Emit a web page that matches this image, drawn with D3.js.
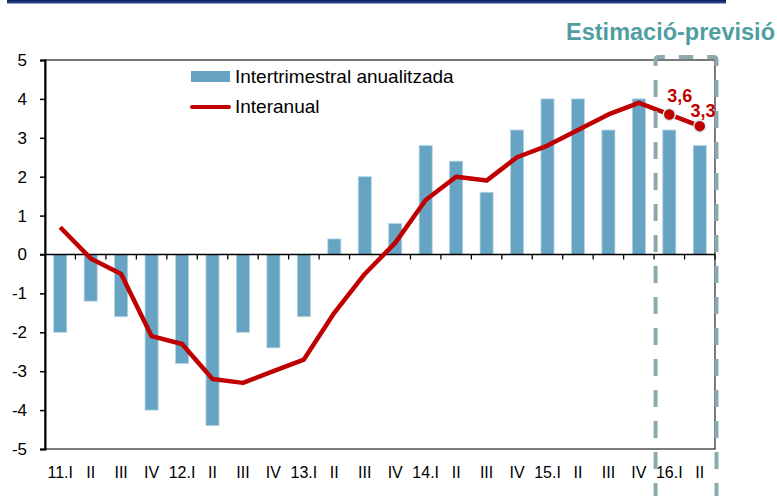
<html>
<head>
    <meta charset="utf-8">
    <title>Estimació-previsió</title>
    <script src="https://d3js.org/d3.v7.min.js"></script>
    <style>
        body { margin: 0; background: #fff; }
        text { font-family: "Liberation Sans", Arial, sans-serif; }
    </style>
</head>
<body>
<script>
    var width = 777,
        height = 496,
        plotLeft = 45, plotRight = 715, plotTop = 60, plotBottom = 449,
        barColor = "#67a4c4",
        lineColor = "#c00000",
        boxColor = "#8ca9ad";

    // quarters
    var quarters = ["11.I", "II", "III", "IV", "12.I", "II ", "III ", "IV ", "13.I", "II  ", "III  ", "IV  ",
        "14.I", "II   ", "III   ", "IV   ", "15.I", "II    ", "III    ", "IV    ", "16.I", "II     "];
    // intertrimestral anualitzada
    var quarterly = [-2.0, -1.2, -1.6, -4.0, -2.8, -4.4, -2.0, -2.4, -1.6, 0.4, 2.0, 0.8,
        2.8, 2.4, 1.6, 3.2, 4.0, 4.0, 3.2, 4.0, 3.2, 2.8];
    // interanual
    var yearly = [0.7, -0.1, -0.5, -2.1, -2.3, -3.2, -3.3, -3.0, -2.7, -1.5, -0.5, 0.3,
        1.4, 2.0, 1.9, 2.5, 2.8, 3.2, 3.6, 3.9, 3.6, 3.3];
    var yTicks = [5, 4, 3, 2, 1, 0, -1, -2, -3, -4, -5];
    var forecastStart = 20;
    var pointLabels = ["3,6", "3,3"];

    var svg = d3.select("body").append("svg")
        .attr("width", width)
        .attr("height", height);

    var x = d3.scaleBand()
        .domain(quarters)
        .range([plotLeft, plotRight])
        .paddingInner(0.57)
        .paddingOuter(0.285);

    var y = d3.scaleLinear()
        .domain([-5, 5])
        .range([plotBottom, plotTop]);

    var cx = function (i) { return x(quarters[i]) + x.bandwidth() / 2; };

    // top rule
    var grad = svg.append("defs").append("linearGradient")
        .attr("id", "rule").attr("x1", 0).attr("x2", 0).attr("y1", 0).attr("y2", 1);
    grad.append("stop").attr("offset", "0%").attr("stop-color", "#081c5a");
    grad.append("stop").attr("offset", "100%").attr("stop-color", "#2e4f95");
    svg.append("rect")
        .attr("x", 7).attr("y", 0)
        .attr("width", 719).attr("height", 3.5)
        .attr("fill", "url(#rule)");

    // title
    svg.append("text")
        .attr("x", 775).attr("y", 40)
        .attr("text-anchor", "end")
        .attr("font-size", 23.5)
        .attr("font-weight", "bold")
        .attr("fill", "#4f9ea1")
        .text("Estimació-previsió");

    // frame
    svg.append("rect")
        .attr("x", plotLeft).attr("y", plotTop)
        .attr("width", plotRight - plotLeft).attr("height", plotBottom - plotTop)
        .attr("fill", "none")
        .attr("stroke", "#222")
        .attr("stroke-width", 1.2);

    // y axis
    var yAxis = d3.axisLeft(y).tickValues(yTicks).tickSize(5).tickPadding(13)
        .tickFormat(function (d) { return String(d); });
    var gy = svg.append("g").attr("transform", "translate(" + plotLeft + ",0)").call(yAxis);
    gy.select(".domain").attr("stroke", "#000").attr("stroke-width", 2);
    gy.selectAll(".tick line").attr("stroke", "#000").attr("stroke-width", 1.5);
    gy.selectAll(".tick text").attr("font-size", 17).attr("fill", "#000")
        .style("font-family", "'Liberation Sans', Arial, sans-serif");

    // bars
    svg.selectAll(".bar").data(quarterly)
        .enter().append("rect")
        .attr("class", "bar")
        .attr("x", function (d, i) { return x(quarters[i]); })
        .attr("y", function (d) { return y(Math.max(0, d)); })
        .attr("width", x.bandwidth())
        .attr("height", function (d) { return Math.abs(y(d) - y(0)); })
        .attr("fill", barColor)
        .attr("stroke", "#b5d6e4")
        .attr("stroke-width", 0.8);

    // zero line with ticks at band boundaries
    svg.append("line")
        .attr("x1", plotLeft - 5).attr("x2", plotRight)
        .attr("y1", y(0)).attr("y2", y(0))
        .attr("stroke", "#000").attr("stroke-width", 1.5);
    svg.selectAll(".xtick").data(d3.range(1, quarters.length + 1))
        .enter().append("line")
        .attr("x1", function (i) { return plotLeft + x.step() * i; })
        .attr("x2", function (i) { return plotLeft + x.step() * i; })
        .attr("y1", y(0)).attr("y2", y(0) + 5)
        .attr("stroke", "#000").attr("stroke-width", 1.3);

    // x labels
    svg.selectAll(".xlabel").data(quarters)
        .enter().append("text")
        .attr("x", function (d, i) { return cx(i); })
        .attr("y", 478)
        .attr("text-anchor", "middle")
        .attr("font-size", 16)
        .attr("fill", "#000")
        .text(function (d) { return d.trim(); });

    // interanual line
    var line = d3.line()
        .x(function (d, i) { return cx(i); })
        .y(function (d) { return y(d); });
    svg.append("path")
        .datum(yearly)
        .attr("d", line)
        .attr("fill", "none")
        .attr("stroke", lineColor)
        .attr("stroke-width", 4.5)
        .attr("stroke-linejoin", "round");

    // forecast box, drawn as two halves from the bottom so the dashes match on both sides
    var bx0 = plotLeft + x.step() * forecastStart + 1.5,
        bx1 = plotRight + 1.5,
        bxm = (bx0 + bx1) / 2,
        by0 = plotTop - 3;
    var halves = [
        "M" + bx0 + "," + height + "V" + (by0 + 3) + "Q" + bx0 + "," + by0 + " " + (bx0 + 3) + "," + by0 + "H" + bxm,
        "M" + bx1 + "," + height + "V" + (by0 + 3) + "Q" + bx1 + "," + by0 + " " + (bx1 - 3) + "," + by0 + "H" + bxm
    ];
    svg.selectAll(".box").data(halves)
        .enter().append("path")
        .attr("d", function (d) { return d; })
        .attr("fill", "none")
        .attr("stroke", boxColor)
        .attr("stroke-width", 4)
        .attr("stroke-dasharray", "17,14")
        .attr("stroke-dashoffset", 4);

    // forecast points
    var fc = d3.range(forecastStart, quarters.length);
    svg.selectAll(".pt").data(fc)
        .enter().append("circle")
        .attr("cx", function (i) { return cx(i); })
        .attr("cy", function (i) { return y(yearly[i]); })
        .attr("r", 6)
        .attr("fill", lineColor)
        .attr("stroke", "#d4ecf0")
        .attr("stroke-width", 1.5);
    var off = [[10.5, -12.5], [3.3, -9]];
    svg.selectAll(".ptlabel").data(fc)
        .enter().append("text")
        .attr("x", function (i, k) { return cx(i) + off[k][0]; })
        .attr("y", function (i, k) { return y(yearly[i]) + off[k][1]; })
        .attr("text-anchor", "middle")
        .attr("font-size", 18)
        .attr("font-weight", "bold")
        .attr("fill", lineColor)
        .text(function (i, k) { return pointLabels[k]; });

    // legend
    var lg = svg.append("g");
    lg.append("rect")
        .attr("x", 191).attr("y", 71)
        .attr("width", 39).attr("height", 11)
        .attr("fill", barColor);
    lg.append("text")
        .attr("x", 235).attr("y", 83)
        .attr("font-size", 19).attr("fill", "#000")
        .text("Intertrimestral anualitzada");
    lg.append("line")
        .attr("x1", 192).attr("x2", 229)
        .attr("y1", 107).attr("y2", 107)
        .attr("stroke", lineColor).attr("stroke-width", 4)
        .attr("stroke-linecap", "round");
    lg.append("text")
        .attr("x", 235).attr("y", 113)
        .attr("font-size", 19).attr("fill", "#000")
        .text("Interanual");
</script>
</body>
</html>
